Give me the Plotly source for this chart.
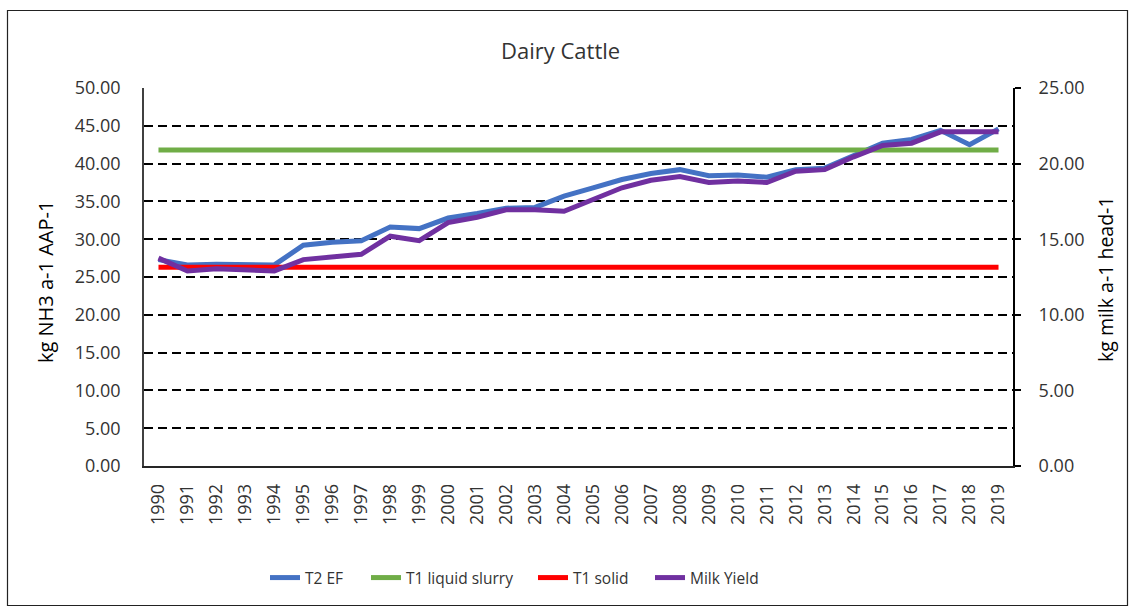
import plotly.graph_objects as go

# Data
years = [str(y) for y in range(1990, 2020)]
t2_ef = [27.3, 26.6, 26.7, 26.7, 26.6, 29.2, 29.6, 29.8, 31.6, 31.4,
         32.8, 33.4, 34.1, 34.2, 35.7, 36.8, 37.9, 38.7, 39.2, 38.4,
         38.5, 38.2, 39.2, 39.4, 41.0, 42.7, 43.2, 44.4, 42.5, 44.6]
t1_liquid_slurry = [41.8] * 30
t1_solid = [26.3] * 30
milk_yield = [13.75, 12.9, 13.05, 13.0, 12.9, 13.65, 13.8, 14.0, 15.2, 14.9,
              16.1, 16.45, 16.95, 16.95, 16.85, 17.6, 18.4, 18.9, 19.15, 18.75,
              18.85, 18.75, 19.5, 19.6, 20.45, 21.2, 21.35, 22.1, 22.1, 22.1]

FONT = "Open Sans"
TXT = "#333333"

W, H = 1136, 610
L, R, T, B = 144, 1013, 88, 466
pw, ph = R - L, B - T

def px_x(x):
    return (x - L) / pw

def px_y(y):
    return (B - y) / ph

# (name, values, colour, y-axis, legend id, legend text start in px)
series = [
    ("T2 EF", t2_ef, "#4472C4", "y", "legend", 307),
    ("T1 liquid slurry", t1_liquid_slurry, "#70AD47", "y", "legend2", 408),
    ("T1 solid", t1_solid, "#FF0000", "y", "legend3", 575),
    ("Milk Yield", milk_yield, "#7030A0", "y2", "legend4", 692),
]

fig = go.Figure()
legend_layouts = {}
for name, vals, color, ax, leg, text_x in series:
    fig.add_trace(go.Scatter(
        x=years, y=vals, name=name, mode="lines", yaxis=ax, legend=leg,
        line=dict(color=color, width=5), cliponaxis=False,
    ))
    legend_layouts[leg] = dict(
        orientation="h", x=px_x(text_x - 42), xanchor="left",
        y=px_y(578), yanchor="middle",
        font=dict(size=15.5, color=TXT), bgcolor="rgba(0,0,0,0)",
    )

fig.update_layout(
    width=W, height=H,
    margin=dict(l=L, r=W - R, t=T, b=H - B, pad=0),
    paper_bgcolor="white", plot_bgcolor="white",
    font=dict(family=FONT, color=TXT, size=18),
    showlegend=True,
    xaxis=dict(
        type="category", range=[-0.5, 29.5],
        showgrid=False, showline=True, linecolor="#262626", linewidth=1.5,
        ticks="", tickangle=-90, tickfont=dict(size=18),
        ticklabelstandoff=9, zeroline=False,
    ),
    yaxis=dict(
        range=[0, 50], dtick=5, tickformat=".2f",
        showgrid=True, gridcolor="black", gridwidth=2, griddash="9px,5px",
        showline=True, linecolor="#404040", linewidth=1.5,
        ticks="", tickfont=dict(size=18), ticklabelstandoff=18,
        zeroline=False,
    ),
    yaxis2=dict(
        range=[0, 25], dtick=5, tickformat=".2f", overlaying="y", side="right",
        showgrid=False, showline=True, linecolor="black", linewidth=2,
        ticks="outside", ticklen=6, tickcolor="black", tickwidth=1.5,
        tickfont=dict(size=18), ticklabelstandoff=14, zeroline=False,
    ),
    annotations=[
        dict(text="Dairy Cattle", xref="paper", yref="paper",
             x=px_x(560), y=px_y(50), showarrow=False,
             font=dict(size=22, color=TXT), xanchor="center", yanchor="middle"),
        dict(text="kg NH3 a-1 AAP-1", xref="paper", yref="paper",
             x=px_x(45), y=px_y(282), showarrow=False, textangle=-90,
             font=dict(size=20, color="black"), xanchor="center", yanchor="middle"),
        dict(text="kg milk a-1 head-1", xref="paper", yref="paper",
             x=px_x(1105), y=px_y(279), showarrow=False, textangle=-90,
             font=dict(size=19.5, color="black"), xanchor="center", yanchor="middle"),
    ],
    shapes=[
        dict(type="rect", xref="paper", yref="paper",
             x0=px_x(7.5), x1=px_x(1127.5), y0=px_y(605.5), y1=px_y(10.5),
             line=dict(color="#222222", width=1.2), fillcolor="rgba(0,0,0,0)",
             layer="below"),
    ],
    **legend_layouts,
)

fig.write_html("out.html")
